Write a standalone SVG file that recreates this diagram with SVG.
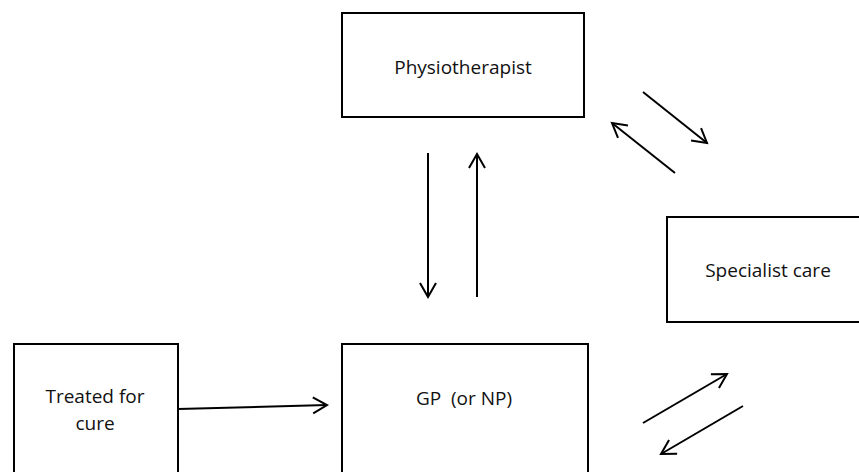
<svg xmlns="http://www.w3.org/2000/svg" width="859" height="472" viewBox="0 0 859 472">
<style>
.box{fill:#fff;stroke:#000;stroke-width:2}
.lbl{font-family:"Open Sans","Liberation Sans",sans-serif;font-size:19px;fill:#111;text-anchor:middle;white-space:pre}
.con{stroke:#000;stroke-width:2;fill:none;marker-end:url(#ah)}
</style>
<defs>
<marker id="ah" markerUnits="userSpaceOnUse" markerWidth="20" markerHeight="20" viewBox="-16 -10 20 20" refX="0" refY="0" orient="auto">
<path d="M-14,-8 L0,0 L-14,8" fill="none" stroke="#000" stroke-width="2"/>
</marker>
</defs>
<rect width="859" height="472" fill="#fff"/>
<g id="physio"><rect class="box" x="342" y="13" width="242" height="104"/><text class="lbl" x="463" y="74">Physiotherapist</text></g>
<g id="specialist"><rect class="box" x="667" y="217" width="200" height="105"/><text class="lbl" x="768" y="277">Specialist care</text></g>
<g id="treated"><rect class="box" x="14" y="344" width="164" height="140"/><text class="lbl" x="95" y="403">Treated for</text><text class="lbl" x="95" y="430">cure</text></g>
<g id="gp"><rect class="box" x="342" y="344" width="246" height="140"/><text class="lbl" x="464" y="405" xml:space="preserve">GP  (or NP)</text></g>
<g id="connectors">
<line class="con" x1="178" y1="409" x2="327" y2="405"/>
<line class="con" x1="428" y1="153" x2="428" y2="297"/>
<line class="con" x1="477" y1="297" x2="477" y2="154"/>
<line class="con" x1="643" y1="92" x2="707" y2="143"/>
<line class="con" x1="675" y1="173" x2="612" y2="123"/>
<line class="con" x1="643" y1="423" x2="727" y2="374"/>
<line class="con" x1="743" y1="406" x2="661" y2="454"/>
</g>
</svg>
